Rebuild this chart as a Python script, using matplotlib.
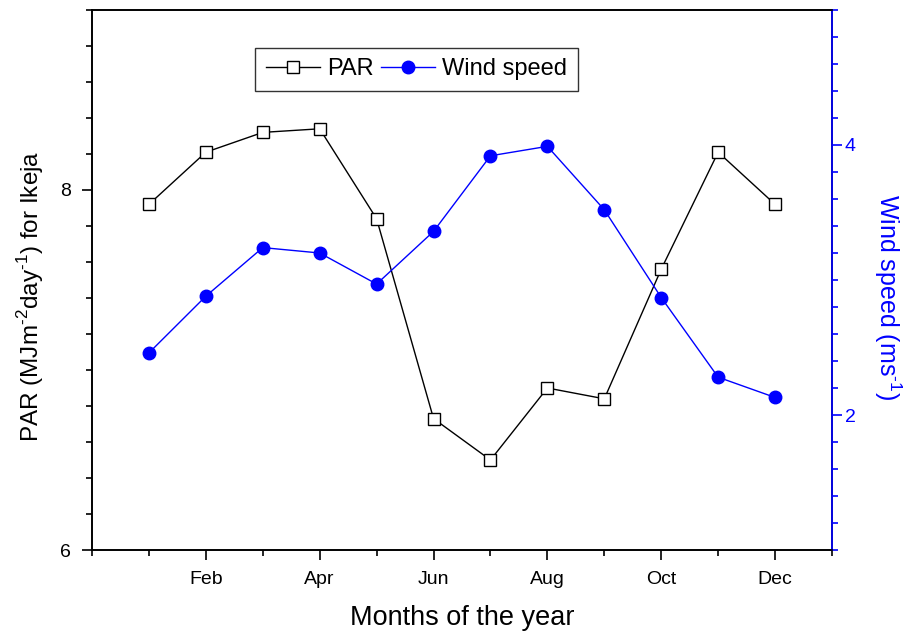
import matplotlib
matplotlib.use('Agg')
import matplotlib.pyplot as plt
from matplotlib.ticker import MultipleLocator

plt.rcParams['font.family'] = ['Liberation Sans', 'DejaVu Sans']
plt.rcParams['mathtext.fontset'] = 'custom'
plt.rcParams['mathtext.rm'] = 'Liberation Sans'

months = list(range(1, 13))
month_ticks = [2, 4, 6, 8, 10, 12]
month_labels = ['Feb', 'Apr', 'Jun', 'Aug', 'Oct', 'Dec']
par = [7.92, 8.21, 8.32, 8.34, 7.84, 6.73, 6.50, 6.90, 6.84, 7.56, 8.21, 7.92]
wind = [2.46, 2.88, 3.24, 3.20, 2.97, 3.36, 3.92, 3.99, 3.52, 2.87, 2.28, 2.13]

fig = plt.figure(figsize=(9.09, 6.36), dpi=100)
ax1 = fig.add_axes([0.1012, 0.1352, 0.8141, 0.8491])
ax2 = ax1.twinx()

l1, = ax1.plot(months, par, color='black', lw=1, marker='s', ms=8,
               mfc='white', mec='black', mew=1, label='PAR')
l2, = ax2.plot(months, wind, color='blue', lw=1, marker='o', ms=9,
               mfc='blue', mec='blue', label='Wind speed')

ax1.set_xlim(0, 13)
ax1.set_ylim(6, 9)
ax2.set_ylim(1, 5)

ax1.set_xticks(month_ticks)
ax1.set_xticklabels(month_labels)
ax1.xaxis.set_minor_locator(MultipleLocator(1))
ax1.yaxis.set_major_locator(MultipleLocator(2))
ax1.yaxis.set_minor_locator(MultipleLocator(0.2))
ax2.yaxis.set_major_locator(MultipleLocator(2))
ax2.yaxis.set_minor_locator(MultipleLocator(0.2))

for ax in (ax1, ax2):
    for s in ax.spines.values():
        s.set_linewidth(1.2)
ax1.tick_params(axis='both', which='major', direction='out', length=7, width=1.2,
                labelsize=14, pad=8)
ax1.tick_params(axis='both', which='minor', direction='out', length=4, width=1.2)
ax1.tick_params(axis='x', which='both', top=False)
ax1.tick_params(axis='y', which='both', right=False)
ax2.tick_params(axis='y', which='major', direction='out', length=7, width=1.2,
                colors='blue', labelsize=14, pad=2)
ax2.tick_params(axis='y', which='minor', direction='out', length=4, width=1.2, colors='blue')
ax2.spines['right'].set_color('blue')

ax1.set_xlabel('Months of the year', fontsize=19.5, labelpad=12)
ax1.set_ylabel(r'PAR (MJm$^{\text{-2}}$day$^{\text{-1}}$) for Ikeja', fontsize=17.5)
ax1.yaxis.set_label_coords(-0.062, 0.469)
ax2.set_ylabel(r'Wind speed (ms$^{\text{-1}}$)', fontsize=18, color='blue', rotation=270)
ax2.yaxis.set_label_coords(1.096, 0.469)

leg = ax1.legend(handles=[l1, l2], loc='upper center', bbox_to_anchor=(0.4385, 0.93),
                 borderaxespad=0, ncol=2, fontsize=17, frameon=True, fancybox=False,
                 edgecolor='black', handlelength=2.3, columnspacing=0.3,
                 handletextpad=0.3, borderpad=0.45)
leg.get_frame().set_linewidth(1)

fig.savefig('out.png', dpi=100)
